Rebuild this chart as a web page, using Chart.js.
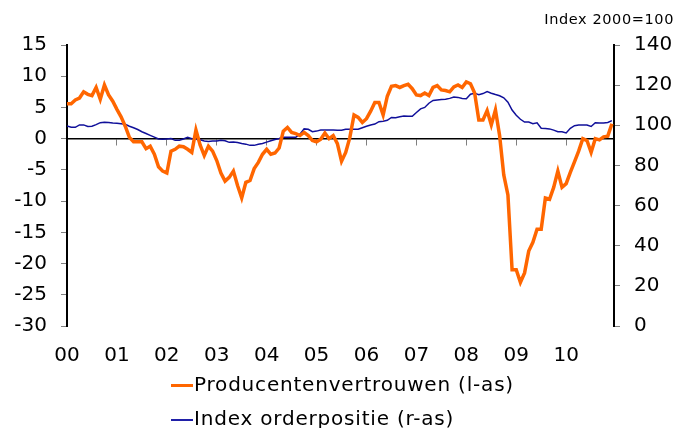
<!DOCTYPE html>
<html>
<head>
<meta charset="utf-8">
<script src="https://cdn.jsdelivr.net/npm/chart.js@4.4.1/dist/chart.umd.min.js"></script>
<style>
  html, body { margin: 0; padding: 0; background: #fff; }
  #wrap { position: relative; width: 678px; height: 428px; font-family: "DejaVu Sans", Verdana, sans-serif; }
  canvas { position: absolute; left: 0; top: 0; }
  .unit { position: absolute; right: 4px; top: 11px; font-size: 14.5px; letter-spacing: 0.6px; color: #000; }
  .leg { position: absolute; left: 171px; font-size: 20px; letter-spacing: 0.8px; color: #000; white-space: nowrap; line-height: 24px; }
  .leg .sw { display: inline-block; width: 22px; vertical-align: middle; margin-right: 1px; }
</style>
</head>
<body>
<div id="wrap">
  <canvas id="c" width="678" height="428"></canvas>
  <div class="unit">Index 2000=100</div>
  <div class="leg" id="leg1" style="top:372px"><span class="sw" style="height:3px;background:#FF6600"></span>Producentenvertrouwen (l-as)</div>
  <div class="leg" id="leg2" style="top:406px"><span class="sw" style="height:2px;background:#2020A8"></span>Index orderpositie (r-as)</div>
</div>
<script>
// Year tick labels (one per January, 2000..2010)
const yearLabels = ['00','01','02','03','04','05','06','07','08','09','10'];

// Producentenvertrouwen (left axis), monthly Jan 2000 .. Dec 2010
const producentenvertrouwen = [
  5.6, 5.6, 6.2, 6.5, 7.5, 7.1, 6.9, 8.2, 6.3, 8.6, 7.0, 6.0,
  4.7, 3.5, 2.0, 0.2, -0.5, -0.5, -0.5, -1.6, -1.2, -2.5, -4.5, -5.2,
  -5.5, -2.0, -1.7, -1.2, -1.3, -1.7, -2.2, 1.4, -1.0, -2.7, -1.2, -2.0,
  -3.5, -5.5, -6.8, -6.2, -5.2, -7.5, -9.5, -7.0, -6.7, -4.8, -3.8, -2.5,
  -1.7, -2.5, -2.3, -1.5, 1.2, 1.8, 1.0, 0.8, 0.5, 1.0, 0.5, -0.3,
  -0.5, -0.1, 0.9, 0.0, 0.5, -0.8, -3.6, -2.2, 0.2, 3.8, 3.4, 2.6,
  3.2, 4.4, 5.8, 5.8, 3.8, 6.8, 8.4, 8.5, 8.2, 8.5, 8.7, 8.0,
  7.0, 6.9, 7.3, 6.9, 8.2, 8.5, 7.8, 7.7, 7.5, 8.3, 8.6, 8.2,
  9.1, 8.8, 7.3, 3.0, 3.0, 4.5, 2.2, 4.6, 0.5, -5.8, -9.0, -21.0,
  -21.0, -23.0, -21.5, -18.0, -16.6, -14.5, -14.5, -9.5, -9.7, -7.8, -5.2, -7.8,
  -7.2, -5.4, -3.7, -2.0, 0.0, -0.3, -2.2, 0.0, -0.2, 0.3, 0.4, 2.4
];

// Index orderpositie (right axis, 2000=100), monthly Jan 2000 .. Dec 2010
const indexOrderpositie = [
  99.7, 99.0, 99.0, 100.2, 100.2, 99.4, 99.5, 100.3, 101.3, 101.5, 101.4, 101.1,
  101.0, 100.8, 100.5, 99.5, 98.8, 97.9, 96.8, 95.9, 95.0, 94.1, 93.2, 93.0,
  93.2, 93.4, 92.5, 92.6, 93.2, 94.0, 93.3, 93.0, 92.8, 92.2, 91.9, 92.2,
  92.2, 92.5, 92.3, 91.5, 91.7, 91.4, 90.9, 90.6, 90.0, 90.0, 90.5, 90.9,
  91.6, 92.3, 92.9, 93.4, 94.0, 94.0, 94.0, 94.0, 95.6, 98.2, 98.0, 96.8,
  97.1, 97.6, 97.7, 97.7, 97.7, 97.5, 97.5, 98.0, 98.0, 98.0, 98.0, 98.8,
  99.5, 100.1, 100.6, 101.8, 102.0, 102.5, 103.9, 103.8, 104.3, 104.6, 104.5, 104.5,
  106.4, 108.2, 108.9, 111.0, 112.4, 112.6, 112.8, 113.0, 113.4, 114.1, 113.9, 113.3,
  113.2, 115.5, 116.0, 115.2, 115.8, 116.8, 116.0, 115.3, 114.7, 113.7, 111.5, 107.6,
  105.0, 103.0, 101.6, 101.6, 100.8, 101.2, 98.5, 98.4, 98.2, 97.6, 96.8, 96.8,
  96.2, 98.5, 99.8, 100.1, 100.1, 100.1, 99.4, 101.3, 101.2, 101.1, 101.4, 102.3
];

const leftTicks = [-30, -25, -20, -15, -10, -5, 0, 5, 10, 15];
const rightTicks = [0, 20, 40, 60, 80, 100, 120, 140];

const toPoints = arr => arr.map((v, i) => ({ x: i, y: v }));
const yearTicks = () => yearLabels.map((_, i) => ({ value: i * 12 }));

const tickFont = { family: '"DejaVu Sans", Verdana, sans-serif', size: 20 };

new Chart(document.getElementById('c'), {
  type: 'line',
  data: {
    datasets: [
      {
        label: 'Producentenvertrouwen (l-as)',
        data: toPoints(producentenvertrouwen),
        borderColor: '#FF6600',
        borderWidth: 3.5,
        pointRadius: 0,
        tension: 0,
        xAxisID: 'x',
        yAxisID: 'yL'
      },
      {
        label: 'Index orderpositie (r-as)',
        data: toPoints(indexOrderpositie),
        borderColor: '#10109A',
        borderWidth: 1.5,
        pointRadius: 0,
        tension: 0,
        xAxisID: 'x',
        yAxisID: 'yR'
      }
    ]
  },
  options: {
    responsive: false,
    animation: false,
    devicePixelRatio: 1,
    layout: { padding: { top: 45, left: 0, right: 0, bottom: 0 } },
    plugins: { legend: { display: false }, tooltip: { enabled: false } },
    scales: {
      x: {
        type: 'linear', position: 'bottom', min: 0, max: 131.5,
        grid: { display: false, drawTicks: false },
        border: { display: false },
        afterBuildTicks: s => { s.ticks = yearTicks(); },
        afterFit: s => { s.height = 102; },
        ticks: {
          color: '#000', font: tickFont, padding: 18, autoSkip: false, maxRotation: 0,
          callback: v => yearLabels[Math.round(v / 12)]
        }
      },
      x2: {
        type: 'linear', position: { yL: 0 }, min: 0, max: 131.5,
        grid: { drawOnChartArea: false, drawTicks: true, tickLength: 6, color: '#808080', lineWidth: 1 },
        border: { display: true, color: '#000', width: 1.5 },
        afterBuildTicks: s => { s.ticks = yearTicks().slice(1); },
        ticks: { display: false }
      },
      yL: {
        type: 'linear', position: 'left', min: -30, max: 15,
        afterBuildTicks: s => { s.ticks = leftTicks.map(v => ({ value: v })); },
        afterFit: s => { s.width = 67; },
        grid: { drawOnChartArea: false, tickLength: 6, color: '#808080' },
        border: { color: '#000', width: 2 },
        ticks: { color: '#000', font: tickFont, padding: 14 }
      },
      yR: {
        type: 'linear', position: 'right', min: 0, max: 140,
        afterBuildTicks: s => { s.ticks = rightTicks.map(v => ({ value: v })); },
        afterFit: s => { s.width = 64; },
        grid: { drawOnChartArea: false, tickLength: 6, color: '#808080' },
        border: { color: '#000', width: 2 },
        ticks: { color: '#000', font: tickFont, padding: 14 }
      }
    }
  }
});
</script>
</body>
</html>
